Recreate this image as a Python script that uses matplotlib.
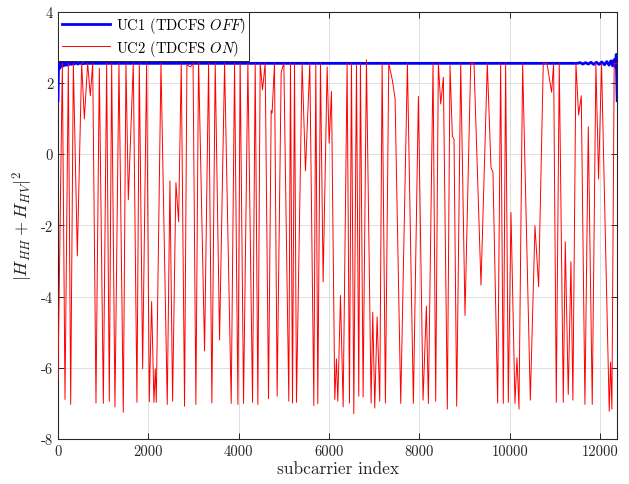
import matplotlib
matplotlib.use('Agg')
import matplotlib.pyplot as plt
import numpy as np

# UC1 (TDCFS OFF): flat level with ringing at both ends
blue_x = [0, 15, 30, 45, 60, 75, 90, 105, 120, 140, 160, 180, 200, 225, 250, 275, 300,
          330, 360, 400, 440, 480, 540, 600,
          11500, 11560, 11620, 11680, 11740, 11800, 11860, 11920, 11980, 12040, 12100,
          12150, 12200, 12240, 12280, 12310, 12340, 12360, 12380]
blue_y = [1.5, 2.8, 2.4, 2.7, 2.45, 2.65, 2.5, 2.62, 2.48, 2.6, 2.5, 2.6, 2.5, 2.58, 2.52,
          2.58, 2.52, 2.57, 2.53, 2.57, 2.53, 2.56, 2.54, 2.55,
          2.55, 2.57, 2.53, 2.57, 2.53, 2.58, 2.52, 2.58, 2.52, 2.59, 2.51,
          2.6, 2.5, 2.62, 2.48, 2.65, 2.45, 2.8, 1.5]

# UC2 (TDCFS ON):
red_x = [0, 96, 155, 229, 281, 340, 428, 524, 583, 657, 716, 768, 841, 915, 1004, 1077,
         1136, 1188, 1261, 1350, 1446, 1505, 1557, 1667, 1748, 1800, 1874, 1962, 2021,
         2073, 2124, 2154, 2176, 2280, 2419, 2478, 2537, 2611, 2670, 2729, 2802, 2854,
         2935, 2990, 3053, 3112, 3245, 3334, 3407, 3481, 3577, 3688, 3835, 3909, 3983,
         4034, 4108, 4204, 4307, 4366, 4425, 4477, 4528, 4587, 4661, 4720, 4740, 4793,
         4852, 4941, 5000, 5110, 5147, 5192, 5236, 5280, 5405, 5479, 5575, 5664, 5708,
         5752, 5811, 5870, 5959, 6003, 6055, 6128, 6165, 6195, 6254, 6313, 6401, 6453,
         6497, 6549, 6608, 6659, 6696, 6755, 6829, 6932, 6969, 7013, 7065, 7124, 7176,
         7249, 7323, 7404, 7463, 7588, 7736, 7868, 7979, 8082, 8156, 8200, 8303, 8362,
         8421, 8473, 8532, 8620, 8679, 8731, 8768, 8827, 8916, 9011, 9137, 9210, 9365,
         9505, 9586, 9630, 9734, 9800, 9859, 9911, 9970, 10029, 10117, 10162, 10206,
         10287, 10457, 10560, 10641, 10744, 10825, 10928, 10973, 11032, 11098, 11187,
         11231, 11297, 11356, 11400, 11467, 11526, 11585, 11666, 11740, 11828, 11909,
         11968, 12034, 12204, 12233, 12263, 12314, 12380]
red_y = [-6.3, 2.55, -6.89, 2.55, -7.03, 2.55, -2.86, 2.55, 0.99, 2.55, 1.64, 2.55, -6.99,
         2.41, -7.0, 2.55, -6.94, 2.55, -7.1, 2.55, -7.25, 2.55, -1.28, 2.55, -6.97, 2.55,
         -6.03, 2.55, -6.95, -4.14, -6.97, -6.03, -6.97, 2.55, -7.03, -0.75, -6.94, -0.8,
         -1.9, 2.55, -7.08, 2.5, 2.45, 2.55, -7.03, 2.68, -5.53, 2.55, -6.99, 2.55, -5.22,
         2.55, -7.0, 2.55, -7.03, 2.55, -7.0, 2.55, -6.97, 2.55, -7.03, 2.55, 1.81, 2.55,
         -6.87, 1.22, 1.15, 2.55, -6.8, 2.3, 2.55, -6.94, 2.55, -6.99, 2.55, -6.97, 2.55,
         -0.47, 2.55, -7.06, 2.55, -7.01, 2.55, -3.59, 2.45, 0.31, 1.76, -6.89, -5.75,
         -6.94, -3.97, -7.1, 2.55, -6.99, 2.55, -7.29, 2.49, -6.8, 2.55, -6.82, 2.65,
         -6.99, -4.44, -7.13, -4.57, -6.94, 2.55, -6.99, 2.55, 2.07, 1.55, -7.0, 2.55,
         -7.0, 1.62, -6.91, -4.27, -7.0, 2.55, -6.94, 2.55, 1.41, 2.16, -7.16, 2.49, 0.5,
         0.42, -7.08, 2.55, -4.53, 2.55, 2.55, -3.68, 2.55, -0.37, -0.51, -6.99, 2.55,
         -7.0, 2.55, -6.97, -1.64, -7.0, -5.72, -7.16, 2.55, -6.91, -2.01, -3.72, 2.55,
         2.55, 1.74, 2.55, -6.97, 2.55, -6.97, -2.46, -6.75, -3.02, -6.91, 2.55, 1.1, 1.64,
         -7.03, 0.77, -7.03, 2.55, -0.7, 2.55, -7.22, -5.84, -7.16, 2.55, 2.55]

x_ticks = [0, 2000, 4000, 6000, 8000, 10000, 12000]
y_ticks = [-8, -6, -4, -2, 0, 2, 4]

plt.rcParams['font.family'] = 'serif'
plt.rcParams['font.serif'] = ['cmr10', 'DejaVu Serif']
plt.rcParams['mathtext.fontset'] = 'cm'
plt.rcParams['axes.unicode_minus'] = False
plt.rcParams['axes.formatter.use_mathtext'] = True

fig = plt.figure(figsize=(6.29, 4.85), dpi=100)
ax = fig.add_axes([0.0922, 0.0928, 0.889, 0.881])

ax.plot(blue_x, blue_y, color='#0000ff', lw=2.0, label=r'UC1 (TDCFS $OFF$)', zorder=3)
ax.plot(red_x, red_y, color='#ff0000', lw=0.7, label=r'UC2 (TDCFS $ON$)', zorder=4)

ax.set_xlim(0, 12380)
ax.set_ylim(-8, 4)
ax.set_xticks(x_ticks)
ax.set_yticks(y_ticks)
ax.set_xticklabels([str(v) for v in x_ticks])
ax.set_yticklabels([str(v) for v in y_ticks])
ax.grid(True, color='#dedede', lw=0.7)
ax.set_axisbelow(True)
ax.tick_params(direction='in', top=True, right=True, length=4, width=0.7,
               labelsize=10.5, colors='#262626')
for s in ax.spines.values():
    s.set_color('#262626')
    s.set_linewidth(0.8)

ax.set_xlabel('subcarrier index', fontsize=12.5, color='#262626', labelpad=2)
ax.set_ylabel(r'$|H_{HH}+H_{HV}|^2$', fontsize=13, color='#262626', labelpad=4)

leg = ax.legend(loc='upper left', fontsize=10.5, frameon=True, fancybox=False,
                edgecolor='#262626', borderaxespad=0.0, handlelength=3.3,
                borderpad=0.25, labelspacing=0.15, handletextpad=0.4)
leg.get_frame().set_linewidth(0.7)
leg.get_frame().set_alpha(1)

fig.savefig('out.png', dpi=100)
